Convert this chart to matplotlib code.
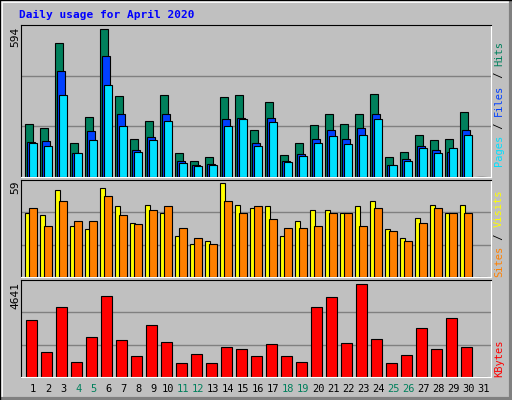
import matplotlib
matplotlib.use("Agg")
import matplotlib.pyplot as plt
from matplotlib.patches import Rectangle
from matplotlib.lines import Line2D

days = list(range(1, 32))
hits = [209,193,522,134,236,577,318,150,217,322,95,64,80,314,322,185,294,87,131,205,248,209,245,326,80,99,166,146,150,254,0]
files = [138,142,413,95,181,471,245,107,158,245,64,48,52,227,232,131,232,64,91,150,185,150,193,248,48,72,123,107,99,185,0]
pages = [131,123,322,95,143,358,201,99,143,220,56,44,48,201,225,123,213,60,84,134,162,128,166,225,48,64,115,95,115,166,0]
visits = [39,38,53,31,29,54,43,33,44,39,25,20,22,57,44,42,43,25,34,41,41,39,43,46,29,24,36,44,39,44,0]
sites = [42,31,46,34,34,49,38,32,41,43,30,24,20,46,39,43,35,30,30,31,39,39,31,42,28,22,33,42,39,39,0]
kbytes = [2743,1185,3327,698,1915,3863,1769,990,2499,1672,649,1087,649,1428,1331,990,1574,990,698,3327,3814,1623,4447,1818,649,1039,2353,1331,2840,1428,0]
weekends = [4,5,11,12,18,19,25,26]
max_hits, max_visits, max_kb = 594, 59, 4641

W, H = 512, 400
fig = plt.figure(figsize=(W/100, H/100), dpi=100, facecolor="#C0C0C0")
mono = "DejaVu Sans Mono"

# outer 3D border
bg = fig.add_axes([0, 0, 1, 1]); bg.set_axis_off(); bg.set_xlim(0, W); bg.set_ylim(H, 0)
bg.add_line(Line2D([1, W-2], [1, 1], color="white", lw=2))
bg.add_line(Line2D([1, 1], [1, H-2], color="white", lw=2))
bg.add_line(Line2D([0, W], [H-1, H-1], color="#808080", lw=3))
bg.add_line(Line2D([W-1, W-1], [0, H], color="#808080", lw=3))
bg.add_line(Line2D([0, W], [0, 0], color="black", lw=1))
bg.add_line(Line2D([0, 0], [0, H], color="black", lw=1))

fig.text(19/W, 1-15/H, "Daily usage for April 2020", color="#0000FF", family=mono,
         weight="bold", fontsize=8, va="center", ha="left")

def panel(top, bot):
    ax = fig.add_axes([21/W, 1-bot/H, 470/W, (bot-top)/H])
    ax.set_facecolor("#C0C0C0")
    ax.set_xlim(-0.29, 31.04)
    ax.set_xticks([]); ax.set_yticks([])
    for s in ["left", "top"]:
        ax.spines[s].set_color("black")
    for s in ["right", "bottom"]:
        ax.spines[s].set_color("white")
    return ax

def grid(ax, m):
    for f in (1/3, 2/3):
        ax.axhline(m*f, color="#808080", lw=1, zorder=0)
    ax.set_ylim(0, m*1.0)

x0 = [d-1 for d in days]
ax1 = panel(25, 177); grid(ax1, max_hits)
ax1.bar([x+0.0 for x in x0], hits, width=0.5, align="edge", color="#00805C", edgecolor="black", lw=0.8, zorder=2)
ax1.bar([x+0.133 for x in x0], files, width=0.5, align="edge", color="#0040FF", edgecolor="black", lw=0.8, zorder=3)
ax1.bar([x+0.267 for x in x0], pages, width=0.5, align="edge", color="#00E0FF", edgecolor="black", lw=0.8, zorder=4)

ax2 = panel(180, 277); grid(ax2, max_visits)
ax2.bar([x+0.0 for x in x0], visits, width=0.32, align="edge", color="#FFFF00", edgecolor="black", lw=0.8, zorder=2)
ax2.bar([x+0.267 for x in x0], sites, width=0.49, align="edge", color="#FF8000", edgecolor="black", lw=0.8, zorder=3)

ax3 = panel(280, 377); grid(ax3, max_kb)
ax3.bar([x+0.067 for x in x0], kbytes, width=0.69, align="edge", color="#FF0000", edgecolor="black", lw=0.8, zorder=2)

# left max labels
for lab, ytop in [(str(max_hits), 27), (str(max_visits), 181), (str(max_kb), 282)]:
    fig.text(15/W, 1-ytop/H, lab, rotation=90, family=mono, fontsize=8, ha="center", va="top")

# right labels
cw = 0.602*7.5*100/72
def vlabel(parts, ybottom):
    y = ybottom
    for txt, col in parts:
        fig.text(499/W, 1-y/H, txt, rotation=90, family=mono, fontsize=7.5, color=col, ha="center", va="bottom")
        y -= cw*(len(txt))
vlabel([("Pages", "#00E0FF"), (" / ", "black"), ("Files", "#0040FF"), (" / ", "black"), ("Hits", "#00805C")], 166)
vlabel([("Sites", "#FF8000"), (" / ", "black"), ("Visits", "#FFFF00")], 277)
vlabel([("KBytes", "#FF0000")], 377)

# day labels
for d in days:
    col = "#00805C" if d in weekends else "black"
    px = 21 + (d-1+0.52+0.29)*470/31.33
    fig.text(px/W, 1-389/H, str(d), family=mono, fontsize=7.5, color=col, ha="center", va="center")

fig.savefig("out.png", dpi=100, facecolor=fig.get_facecolor())
